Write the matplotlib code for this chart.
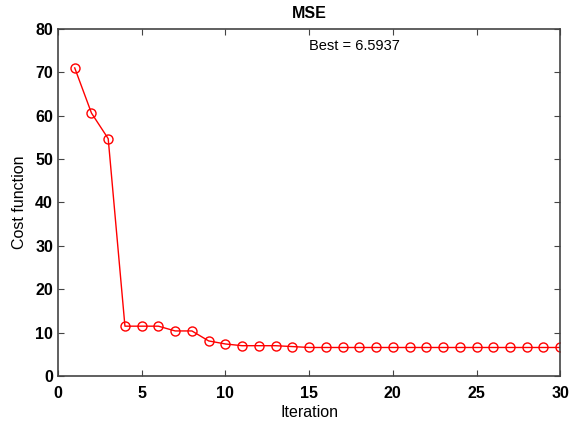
import numpy as np
import matplotlib
matplotlib.use('Agg')
import matplotlib.pyplot as plt
from matplotlib.ticker import MultipleLocator

plt.rcParams['font.family'] = ['Liberation Sans', 'DejaVu Sans']

# data
iterations = list(range(1, 31))
cost = [71.0, 60.6, 54.7, 11.5, 11.5, 11.5, 10.4, 10.4, 8.1, 7.4,
        7.0, 7.0, 7.0, 6.8, 6.59, 6.59, 6.59, 6.59, 6.59, 6.59,
        6.59, 6.59, 6.59, 6.59, 6.59, 6.59, 6.59, 6.59, 6.59, 6.59]
best_label = 'Best = 6.5937'

fig = plt.figure(figsize=(5.74, 4.24), dpi=100)
ax = fig.add_axes([0.101, 0.113, 0.875, 0.819])

ax.plot(iterations, cost, color='red', lw=1, marker='o', ms=6.5,
        mfc='none', mec='red', mew=1)

ax.set_xlim(0, 30)
ax.set_ylim(0, 80)
ax.xaxis.set_major_locator(MultipleLocator(5))
ax.yaxis.set_major_locator(MultipleLocator(10))
ax.tick_params(direction='in', top=True, right=True, length=4,
               labelsize=11.5, color='#444444')
ax.tick_params(axis='x', pad=7)
for lab in ax.get_xticklabels() + ax.get_yticklabels():
    lab.set_fontweight('bold')
for s in ax.spines.values():
    s.set_color('#444444')
    s.set_linewidth(1.2)

ax.set_title('MSE', fontsize=11.5, fontweight='bold', pad=8)
ax.set_xlabel('Iteration', fontsize=11.5, labelpad=3)
ax.set_ylabel('Cost function', fontsize=11.5, labelpad=6)
ax.text(15, 76, best_label, fontsize=10.5, ha='left', va='center')

fig.savefig('out.png', dpi=100)
